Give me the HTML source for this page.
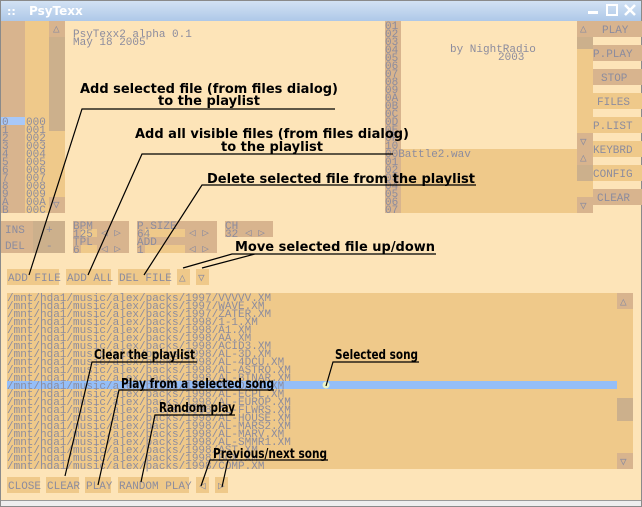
<!DOCTYPE html>
<html><head><meta charset="utf-8"><style>
html,body{margin:0;padding:0;background:#fde4b8;}
svg{display:block}
.m{font-family:"Liberation Mono",monospace;font-size:11px;fill:#8c8c9e;}
.a{font-family:"DejaVu Sans","Liberation Sans",sans-serif;font-weight:bold;font-size:13px;fill:#000;}
</style></head><body>
<svg width="642" height="507" xmlns="http://www.w3.org/2000/svg">
<defs><linearGradient id="tb" x1="0" y1="0" x2="0" y2="1"><stop offset="0" stop-color="#d4e3f4"/><stop offset="1" stop-color="#aec8e8"/></linearGradient></defs>
<rect width="642" height="507" fill="#fde4b8"/>
<rect x="0" y="0" width="642" height="21" fill="url(#tb)"/>
<rect x="0.5" y="0.5" width="641" height="506" fill="none" stroke="#8a8a8a"/>
<text x="7" y="15" font-family="DejaVu Sans" font-size="11" font-weight="bold" fill="#fff">::</text>
<text x="29" y="15" font-family="DejaVu Sans" font-size="12" font-weight="bold" fill="#fff">PsyTexx</text>
<rect x="588" y="11" width="10" height="3" fill="#fff"/>
<rect x="607" y="5" width="10" height="10" fill="none" stroke="#fff" stroke-width="2"/>
<path d="M625 5 L635 15 M635 5 L625 15" stroke="#fff" stroke-width="2.5"/>
<rect x="1" y="21" width="24" height="192" fill="#d8b48e"/>
<rect x="25" y="21" width="24" height="192" fill="#efc98a"/>
<rect x="49" y="21" width="16" height="192" fill="#efc98a"/>
<rect x="49" y="21" width="16" height="16" fill="#d8b48e"/>
<rect x="49" y="37" width="16" height="94" fill="#ccb08c"/>
<rect x="49" y="197" width="16" height="16" fill="#d8b48e"/>
<text class="m" x="53" y="32">△</text><text class="m" x="53" y="208">▽</text>
<rect x="1" y="117" width="24" height="8" fill="#a8c8f8"/>
<g class="m">
<text x="2" y="125">0</text><text x="2" y="133">1</text><text x="2" y="141">2</text><text x="2" y="149">3</text><text x="2" y="157">4</text><text x="2" y="165">5</text><text x="2" y="173">6</text><text x="2" y="181">7</text><text x="2" y="189">8</text><text x="2" y="197">9</text><text x="2" y="205">A</text><text x="2" y="213">B</text>
<text x="26" y="125">000</text><text x="26" y="133">001</text><text x="26" y="141">002</text><text x="26" y="149">003</text><text x="26" y="157">004</text><text x="26" y="165">005</text><text x="26" y="173">006</text><text x="26" y="181">007</text><text x="26" y="189">008</text><text x="26" y="197">009</text><text x="26" y="205">00A</text><text x="26" y="213">00C</text>
<text x="73" y="37">PsyTexx2 alpha 0.1</text><text x="73" y="45">May 18 2005</text>
<text x="450" y="52">by NightRadio</text><text x="498" y="60">2003</text>
</g>
<rect x="385" y="21" width="16" height="192" fill="#d8b48e"/>
<rect x="401" y="149" width="176" height="64" fill="#efc98a"/>
<g class="m">
<text x="385" y="29">01</text><text x="385" y="37">02</text><text x="385" y="45">03</text><text x="385" y="53">04</text><text x="385" y="61">05</text><text x="385" y="69">06</text><text x="385" y="77">07</text><text x="385" y="85">08</text><text x="385" y="93">09</text><text x="385" y="101">0A</text><text x="385" y="109">0B</text><text x="385" y="117">0C</text><text x="385" y="125">0D</text><text x="385" y="133">0E</text><text x="385" y="141">0F</text><text x="385" y="149">10</text><text x="385" y="157">00Battle2.wav</text><text x="385" y="165">01</text><text x="385" y="173">02</text><text x="385" y="181">03</text><text x="385" y="189">04</text><text x="385" y="197">05</text><text x="385" y="205">06</text><text x="385" y="213">07</text>
</g>
<rect x="577" y="21" width="16" height="192" fill="#efc98a"/>
<rect x="577" y="21" width="16" height="16" fill="#d8b48e"/>
<rect x="577" y="37" width="16" height="12" fill="#ccb08c"/>
<rect x="577" y="133" width="16" height="32" fill="#d8b48e"/>
<rect x="577" y="165" width="16" height="16" fill="#ccb08c"/>
<rect x="577" y="197" width="16" height="16" fill="#d8b48e"/>
<g class="m"><text x="580" y="32">△</text><text x="580" y="145">▽</text><text x="580" y="161">△</text><text x="580" y="209">▽</text></g>
<g fill="#d8b48e"><rect x="593" y="21" width="49" height="16"/><rect x="593" y="45" width="49" height="16"/><rect x="593" y="69" width="49" height="16"/><rect x="593" y="189" width="49" height="16"/></g>
<g fill="#efc98a"><rect x="593" y="93" width="49" height="16"/><rect x="593" y="117" width="49" height="16"/><rect x="593" y="141" width="49" height="16"/><rect x="593" y="165" width="49" height="16"/></g>
<g class="m"><text x="602" y="33">PLAY</text><text x="593" y="57">P.PLAY</text><text x="601" y="81">STOP</text><text x="597" y="105">FILES</text><text x="593" y="129">P.LIST</text><text x="593" y="153">KEYBRD</text><text x="593" y="177">CONFIG</text><text x="597" y="201">CLEAR</text></g>
<rect x="1" y="221" width="32" height="32" fill="#d8b48e"/><rect x="33" y="221" width="32" height="32" fill="#ccb08c"/>
<rect x="73" y="221" width="56" height="32" fill="#d8b48e"/><rect x="81" y="229" width="16" height="8" fill="#efc98a"/><rect x="81" y="245" width="16" height="8" fill="#efc98a"/>
<rect x="137" y="221" width="80" height="32" fill="#d8b48e"/><rect x="145" y="229" width="40" height="8" fill="#efc98a"/><rect x="145" y="245" width="40" height="8" fill="#efc98a"/>
<rect x="225" y="221" width="48" height="16" fill="#d8b48e"/>
<g class="m"><text x="5" y="233">INS</text><text x="46" y="233">+</text><text x="5" y="249">DEL</text><text x="46" y="249">-</text>
<text x="73" y="229">BPM</text><text x="73" y="237">125</text><text x="73" y="245">TPL</text><text x="73" y="253">6</text><text x="101" y="236">◁ ▷</text><text x="101" y="252">◁ ▷</text>
<text x="137" y="229">P.SIZE</text><text x="137" y="237">64</text><text x="137" y="245">ADD</text><text x="137" y="253">1</text><text x="189" y="236">◁ ▷</text><text x="189" y="252">◁ ▷</text>
<text x="225" y="229">CH</text><text x="225" y="237">32</text><text x="245" y="236">◁ ▷</text></g>
<g fill="#efc98a"><rect x="7" y="269" width="52" height="16"/><rect x="66" y="269" width="45" height="16"/><rect x="118" y="269" width="52" height="16"/><rect x="177" y="269" width="13" height="16"/><rect x="196" y="269" width="13" height="16"/></g>
<g class="m"><text x="8" y="281">ADD FILE</text><text x="67" y="281">ADD ALL</text><text x="119" y="281">DEL FILE</text><text x="179" y="281">△</text><text x="198" y="281">▽</text></g>
<rect x="7" y="293" width="626" height="176" fill="#efc98a"/>
<rect x="617" y="293" width="16" height="16" fill="#d8b48e"/><rect x="617" y="398" width="16" height="23" fill="#ccb08c"/><rect x="617" y="453" width="16" height="16" fill="#d8b48e"/>
<rect x="7" y="381" width="610" height="8" fill="#94bef8"/>
<circle cx="326" cy="385" r="3.5" fill="#f4f8c0" opacity="0.9"/>
<g class="m"><text x="620" y="305">△</text><text x="620" y="465">▽</text></g>
<g class="m">
<text x="7" y="301">/mnt/hda1/music/alex/packs/1997/VVVVV.XM</text>
<text x="7" y="309">/mnt/hda1/music/alex/packs/1997/WAVE.XM</text>
<text x="7" y="317">/mnt/hda1/music/alex/packs/1997/ZATER.XM</text>
<text x="7" y="325">/mnt/hda1/music/alex/packs/1998/1-1.XM</text>
<text x="7" y="333">/mnt/hda1/music/alex/packs/1998/A1.XM</text>
<text x="7" y="341">/mnt/hda1/music/alex/packs/1998/AA.XM</text>
<text x="7" y="349">/mnt/hda1/music/alex/packs/1998/ACID3.XM</text>
<text x="7" y="357">/mnt/hda1/music/alex/packs/1998/AL-3D.XM</text>
<text x="7" y="365">/mnt/hda1/music/alex/packs/1998/AL-4DCU.XM</text>
<text x="7" y="373">/mnt/hda1/music/alex/packs/1998/AL-ASTRO.XM</text>
<text x="7" y="381">/mnt/hda1/music/alex/packs/1998/AL-BINAR.XM</text>
<text x="7" y="389">/mnt/hda1/music/alex/packs/1998/AL-DANC.XM</text>
<text x="7" y="397">/mnt/hda1/music/alex/packs/1998/AL-ECPL.XM</text>
<text x="7" y="405">/mnt/hda1/music/alex/packs/1998/AL-EUROP.XM</text>
<text x="7" y="413">/mnt/hda1/music/alex/packs/1998/AL-FLWRS.XM</text>
<text x="7" y="421">/mnt/hda1/music/alex/packs/1998/AL-HOUSE.XM</text>
<text x="7" y="429">/mnt/hda1/music/alex/packs/1998/AL-MARS2.XM</text>
<text x="7" y="437">/mnt/hda1/music/alex/packs/1998/AL-MARV.XM</text>
<text x="7" y="445">/mnt/hda1/music/alex/packs/1998/AL-SMMR1.XM</text>
<text x="7" y="453">/mnt/hda1/music/alex/packs/1998/AST.XM</text>
<text x="7" y="461">/mnt/hda1/music/alex/packs/1998/BOX.XM</text>
<text x="7" y="469">/mnt/hda1/music/alex/packs/1998/COMP.XM</text>
</g>
<g fill="#efc98a"><rect x="7" y="477" width="33" height="16"/><rect x="46" y="477" width="33" height="16"/><rect x="85" y="477" width="26" height="16"/><rect x="118" y="477" width="71" height="16"/><rect x="196" y="477" width="13" height="16"/><rect x="215" y="477" width="13" height="16"/></g>
<g class="m"><text x="8" y="489">CLOSE</text><text x="47" y="489">CLEAR</text><text x="86" y="489">PLAY</text><text x="119" y="489">RANDOM PLAY</text><text x="199" y="489">◁</text><text x="218" y="489">▷</text></g>
<rect x="1" y="500" width="640" height="6" fill="#eeeeee"/>
<line x1="1" y1="500.5" x2="641" y2="500.5" stroke="#999"/>
<g class="a">
<text x="209" y="93" text-anchor="middle" textLength="258" lengthAdjust="spacingAndGlyphs">Add selected file (from files dialog)</text>
<text x="209" y="105" text-anchor="middle">to the playlist</text>
<text x="272" y="138" text-anchor="middle" textLength="274" lengthAdjust="spacingAndGlyphs">Add all visible files (from files dialog)</text>
<text x="272" y="151" text-anchor="middle">to the playlist</text>
<text x="207" y="183" textLength="268" lengthAdjust="spacingAndGlyphs">Delete selected file from the playlist</text>
<text x="235" y="251" textLength="200" lengthAdjust="spacingAndGlyphs">Move selected file up/down</text>
<text x="94" y="359" textLength="101" lengthAdjust="spacingAndGlyphs">Clear the playlist</text>
<text x="121" y="388" textLength="153" lengthAdjust="spacingAndGlyphs">Play from a selected song</text>
<text x="159" y="412" textLength="76" lengthAdjust="spacingAndGlyphs">Random play</text>
<text x="213" y="458" textLength="114" lengthAdjust="spacingAndGlyphs">Previous/next song</text>
<text x="335" y="359" textLength="83" lengthAdjust="spacingAndGlyphs">Selected song</text>
</g>
<g stroke="#000" stroke-width="1.2" fill="none">
<path d="M335 109 H82 L29 275"/>
<path d="M393 154 H142 L88 275"/>
<path d="M476 185 H202 L144 275"/>
<path d="M436 254 H232 L183 268 M255 254 L202 268"/>
<path d="M197 362 H92 L65 476"/>
<path d="M274 390 H119 L98 485"/>
<path d="M235 415 H155 L141 482"/>
<path d="M328 460 H210 L201 486 M228 460 L222 487"/>
<path d="M419 362 H333 L326 386"/>
</g>
</svg>
</body></html>
